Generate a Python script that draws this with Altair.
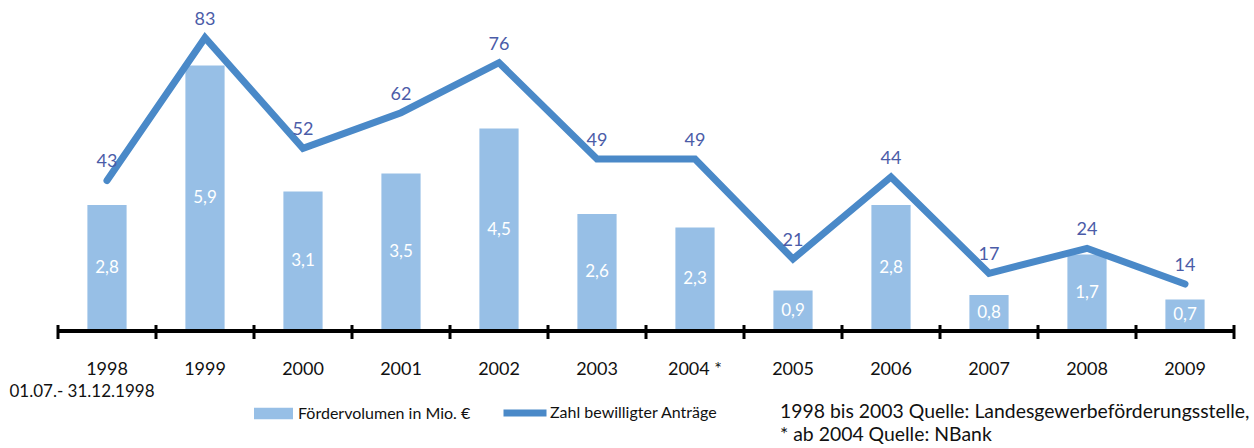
import altair as alt
import pandas as pd

years = ["1998", "1999", "2000", "2001", "2002", "2003", "2004 *", "2005", "2006", "2007", "2008", "2009"]
volumen = [2.8, 5.9, 3.1, 3.5, 4.5, 2.6, 2.3, 0.9, 2.8, 0.8, 1.7, 0.7]
antraege = [43, 83, 52, 62, 76, 49, 49, 21, 44, 17, 24, 14]
series_bar = "Fördervolumen in Mio. €"
series_line = "Zahl bewilligter Anträge"
note_lines = ["1998 bis 2003 Quelle: Landesgewerbeförderungsstelle,", "* ab 2004 Quelle: NBank"]
first_year_note = "01.07.- 31.12.1998"

FONT = "Lato"
BAR_C = "#97bfe6"
LINE_C = "#4a89c8"
LBL_C = "#4b5ca8"
W, H = 1176, 321
PAD_IN = 0.6
STEP = W / len(years)

df = pd.DataFrame({"year": years, "vol": volumen, "antr": antraege})
df["vol_lbl"] = [f"{v:.1f}".replace(".", ",") for v in volumen]
df["half"] = df["vol"] / 2
df["s_bar"] = series_bar
df["s_line"] = series_line

xaxis = alt.Axis(domain=False, ticks=False, labelAngle=0, labelFont=FONT,
                 labelFontSize=18, labelColor="#111", labelPadding=29, grid=False)
xenc = alt.X("year:N", sort=years, title=None,
             scale=alt.Scale(paddingInner=PAD_IN, paddingOuter=PAD_IN / 2), axis=xaxis)

ybar_scale = alt.Scale(domain=[0, 7.133], nice=False, zero=False)
yline_scale = alt.Scale(domain=[0.84, 90.76], nice=False, zero=False)

base = alt.Chart(df)

bars = base.mark_bar().encode(
    x=xenc, y=alt.Y("vol:Q", scale=ybar_scale, axis=None),
    fill=alt.Fill("s_bar:N", scale=alt.Scale(domain=[series_bar], range=[BAR_C]),
                  legend=alt.Legend(title=None, orient="none", legendX=196, legendY=384,
                                    symbolType="M-1,-0.3H1V0.3H-1Z", symbolSize=1521,
                                    symbolStrokeWidth=0, labelFont=FONT, labelFontSize=16,
                                    labelColor="#111", padding=0, labelOffset=5, labelLimit=400)),
)

bar_lbl = base.mark_text(font=FONT, fontSize=17, color="white").encode(
    x=xenc, y=alt.Y("half:Q", scale=ybar_scale, axis=None),
    text="vol_lbl:N",
)

domain_rule = base.transform_filter(alt.datum.year == years[0]).mark_rule(color="black", strokeWidth=4).encode(
    y=alt.datum(0), x=alt.value(0), x2=alt.value(W)
)
# rules on a band scale sit at the band start; shift to the category boundaries
ticks_left = base.mark_rule(color="black", strokeWidth=3).encode(
    x=xenc, xOffset=alt.value(-PAD_IN * STEP / 2), y=alt.value(H - 6), y2=alt.value(H + 8)
)
ticks_right = base.transform_filter(alt.datum.year == years[-1]).mark_rule(color="black", strokeWidth=3).encode(
    x=xenc, xOffset=alt.value(STEP - PAD_IN * STEP / 2), y=alt.value(H - 6), y2=alt.value(H + 8)
)

bar_layer = alt.layer(bars, bar_lbl, domain_rule, ticks_left, ticks_right)

line = base.mark_line(strokeWidth=7, strokeCap="round", strokeJoin="miter").encode(
    x=xenc, y=alt.Y("antr:Q", scale=yline_scale, axis=None),
    stroke=alt.Stroke("s_line:N", scale=alt.Scale(domain=[series_line], range=[LINE_C]),
                      legend=alt.Legend(title=None, orient="none", legendX=442, legendY=378,
                                        symbolType="stroke", symbolSize=1849, symbolStrokeWidth=7,
                                        labelFont=FONT, labelFontSize=16, labelColor="#111",
                                        padding=0, labelOffset=0, labelLimit=400)),
)
line_lbl = base.mark_text(font=FONT, fontSize=18, color=LBL_C, dy=-18).encode(
    x=xenc, y=alt.Y("antr:Q", scale=yline_scale, axis=None), text="antr:Q"
)
line_layer = alt.layer(line, line_lbl)

note_df = pd.DataFrame({"t": ["\n".join(note_lines)]})
note = alt.Chart(note_df).mark_text(font=FONT, fontSize=19.4, align="left", baseline="middle",
                                    lineBreak="\n", lineHeight=23, color="#111").encode(
    x=alt.value(722), y=alt.value(402), text="t:N"
)

first_note = base.transform_filter(alt.datum.year == years[0]).transform_calculate(
    t=f"'{first_year_note}'"
).mark_text(font=FONT, fontSize=17, color="#111", dx=-25, baseline="middle").encode(
    x=xenc, y=alt.value(382), text="t:N"
)

chart = alt.layer(bar_layer, line_layer, note, first_note).resolve_scale(y="independent").properties(
    width=W, height=H,
    autosize="none",
    padding={"left": 58, "top": 10, "right": 20, "bottom": 117},
).configure_view(stroke=None)

chart.save("out.html", embed_options={"renderer": "svg", "actions": False})
